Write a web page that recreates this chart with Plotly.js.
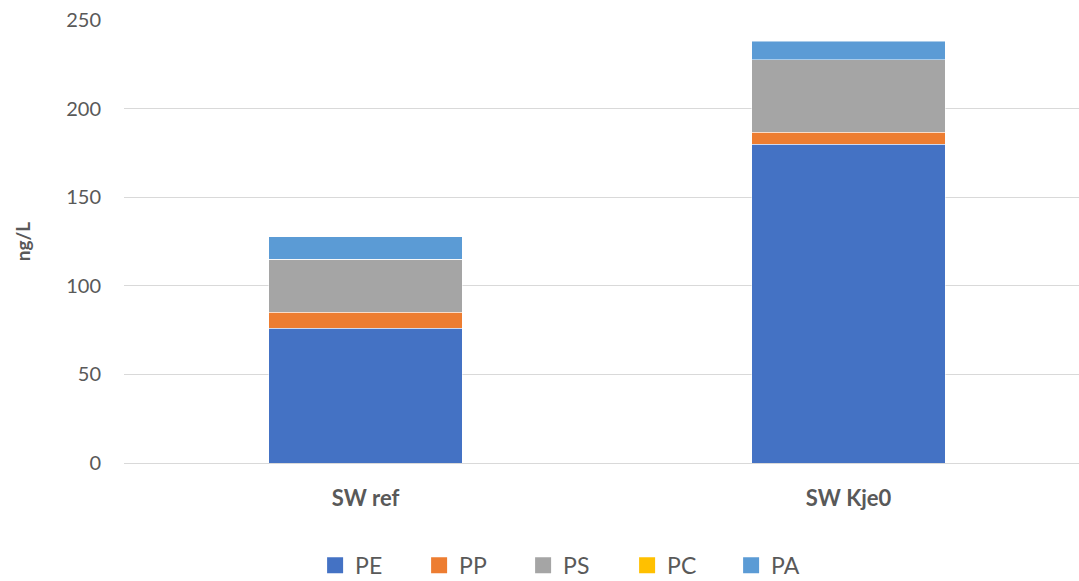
<!DOCTYPE html>
<html>
<head>
<meta charset="utf-8">
<script src="https://cdn.plot.ly/plotly-3.0.1.min.js"></script>
<style>html,body{margin:0;padding:0;background:#fff;}#chart{width:1079px;height:581px;}</style>
</head>
<body>
<div id="chart"></div>
<script>
const categories = ["SW ref", "SW Kje0"];
const seriesNames = ["PE", "PP", "PS", "PC", "PA"];
const PE = [76, 180];
const PP = [9, 6.7];
const PS = [30, 41];
const PC = [0, 0];
const PA = [12.7, 10.3];
const seriesValues = [PE, PP, PS, PC, PA];
const colors = ["#4472C4", "#ED7D31", "#A5A5A5", "#FFC000", "#5B9BD5"];

const font = "Lato, 'Open Sans', sans-serif";
const barTraces = seriesNames.map((n, i) => ({
  type: "bar",
  name: n,
  x: categories,
  y: seriesValues[i],
  width: 0.4,
  showlegend: false,
  marker: {color: colors[i], line: {color: "rgba(255,255,255,0.6)", width: 0.8}},
  hoverinfo: "none"
}));
const legendTraces = seriesNames.map((n, i) => ({
  type: "scatter",
  mode: "markers",
  name: n,
  x: [null],
  y: [null],
  marker: {color: colors[i], symbol: "square", size: 16},
  hoverinfo: "none"
}));

const layout = {
  width: 1079, height: 581,
  barmode: "stack",
  paper_bgcolor: "#fff", plot_bgcolor: "#fff",
  margin: {l: 124, r: 0, t: 20, b: 118},
  font: {family: font, color: "#595959"},
  xaxis: {
    type: "category",
    range: [-0.5, 1.477],
    showgrid: false, zeroline: false, showline: false,
    ticks: "",
    tickfont: {family: font, size: 22, color: "#595959", weight: "bold"},
    ticklabelstandoff: 20
  },
  yaxis: {
    range: [0, 250],
    tickvals: [0, 50, 100, 150, 200, 250],
    showgrid: true, gridcolor: "#D9D9D9", gridwidth: 1,
    zeroline: true, zerolinecolor: "#D9D9D9", zerolinewidth: 1,
    showline: false, ticks: "",
    tickfont: {family: font, size: 20, color: "#595959"},
    ticklabelstandoff: 22,
    title: {text: "<b>ng/L</b>", font: {family: font, size: 19, color: "#595959"}, standoff: 30}
  },
  legend: {
    orientation: "h",
    xref: "container", yref: "container",
    x: 0.533, xanchor: "center",
    y: 0.027, yanchor: "middle",
    font: {family: font, size: 23, color: "#595959"},
    entrywidth: 59, entrywidthmode: "pixels",
    itemclick: false, itemdoubleclick: false,
    itemwidth: 30,
    traceorder: "normal"
  },
  showlegend: true
};

Plotly.newPlot("chart", barTraces.concat(legendTraces), layout, {displayModeBar: false, staticPlot: true});
</script>
</body>
</html>
